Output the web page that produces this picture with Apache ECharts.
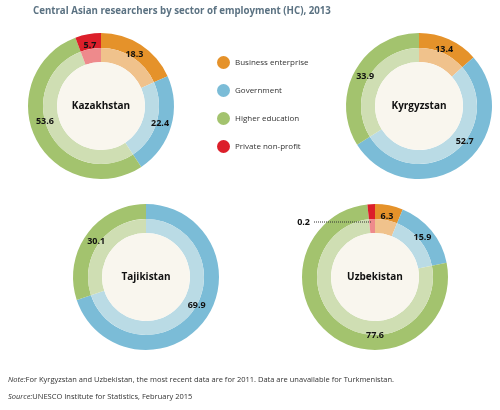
<!DOCTYPE html>
<html>
<head>
<meta charset="utf-8">
<script src="https://cdn.jsdelivr.net/npm/echarts@6/dist/echarts.min.js"></script>
<style>
  html, body { margin: 0; padding: 0; background: #ffffff; }
  #chart { width: 500px; height: 410px; }
</style>
</head>
<body>
<div id="chart"></div>
<script>
// ---- Data ----
const countries = ['Kazakhstan', 'Kyrgyzstan', 'Tajikistan', 'Uzbekistan'];
const sectors = ['Business enterprise', 'Government', 'Higher education', 'Private non-profit'];
const business = [18.3, 13.4, 0, 6.3];
const government = [22.4, 52.7, 69.9, 15.9];
const higherEd = [53.6, 33.9, 30.1, 77.6];
const privateNP = [5.7, 0, 0, 0.2];

// ---- Styles / layout ----
const darkColors = ['#e5922a', '#7bbcd7', '#a3c36e', '#dc1f2a'];
const lightColors = ['#f0c28c', '#badbe5', '#cfdeb3', '#ee8a8c'];
const centers = [[101, 106], [419, 106], [146, 277], [375, 277]];
// label angle overrides (degrees clockwise from 12 o'clock), keyed "country|sector"
const labelAngleOverride = {
  'Kazakhstan|Higher education': 255,
  'Kyrgyzstan|Government': 128,
  'Tajikistan|Government': 119,
  'Uzbekistan|Higher education': 180
};
const FONT = '"Open Sans", "Noto Sans", sans-serif';
const R_IN = 44, R_MID = 58, R_OUT = 73;

const seriesValues = [business, government, higherEd, privateNP];

function buildData(ci, colors) {
  const arr = [];
  sectors.forEach(function (s, si) {
    const v = seriesValues[si][ci];
    if (v > 0) {
      arr.push({ name: s, value: v, itemStyle: { color: colors[si] } });
    }
  });
  return arr;
}

const series = [];
countries.forEach(function (c, ci) {
  const center = centers[ci];
  const common = {
    type: 'pie', center: center, startAngle: 90, clockwise: true,
    avoidLabelOverlap: false, silent: true,
    minAngle: ci === 3 ? 6 : 0,
    emphasis: { disabled: true },
    labelLine: { show: false }
  };
  series.push(Object.assign({}, common, {
    radius: [R_MID, R_OUT], label: { show: false },
    data: buildData(ci, darkColors)
  }));
  series.push(Object.assign({}, common, {
    radius: [R_IN, R_MID], label: { show: false },
    data: buildData(ci, lightColors)
  }));
  // label carrier ring (transparent)
  const labelData = buildData(ci, darkColors).map(function (d) {
    const item = { name: d.name, value: d.value, itemStyle: { color: 'rgba(0,0,0,0)' } };
    if (d.value < 1) {
      item.label = { position: 'outside' };
      item.labelLine = { show: true, lineStyle: { type: 'dotted', color: '#333', width: 1 } };
    }
    return item;
  });
  series.push(Object.assign({}, common, {
    radius: [R_IN, R_OUT], z: 5,
    label: {
      show: true, position: 'inside', color: '#111', fontSize: 9, fontWeight: 'bold',
      fontFamily: FONT,
      formatter: function (p) { return p.value.toFixed(1); }
    },
    labelLayout: function (params) {
      const d = labelData[params.dataIndex];
      if (!d) return;
      if (d.value < 1) {
        const y = center[1] - 55;
        return {
          x: 310, y: y, align: 'right', verticalAlign: 'middle',
          labelLinePoints: [[center[0] - 4, y], [center[0] - 30, y], [314, y]]
        };
      }
      const a = labelAngleOverride[c + '|' + d.name];
      if (a !== undefined) {
        const rad = a * Math.PI / 180;
        return {
          x: center[0] + R_MID * Math.sin(rad),
          y: center[1] - R_MID * Math.cos(rad),
          align: 'center', verticalAlign: 'middle'
        };
      }
    },
    data: labelData
  }));
  // cream centre with country name
  series.push({
    type: 'pie', center: center, radius: [0, R_IN], silent: true,
    emphasis: { disabled: true },
    itemStyle: { color: '#f9f6ee' },
    label: {
      show: true, position: 'center', formatter: '{b}', color: '#111',
      fontSize: 10, fontWeight: 'bold', fontFamily: FONT
    },
    labelLine: { show: false },
    data: [{ name: c, value: 1 }]
  });
});

const chart = echarts.init(document.getElementById('chart'), null, { renderer: 'canvas' });
chart.setOption({
  animation: false,
  backgroundColor: '#ffffff',
  title: {
    text: 'Central Asian researchers by sector of employment (HC), 2013',
    left: 33, top: 6, padding: 0,
    textStyle: { fontSize: 9.7, fontWeight: 'bold', color: '#5b7282', fontFamily: FONT }
  },
  legend: {
    data: sectors, orient: 'vertical', left: 212, top: 51,
    itemWidth: 13, itemHeight: 13, itemGap: 15, icon: 'circle',
    selectedMode: false,
    textStyle: { fontSize: 8, color: '#333', fontFamily: FONT }
  },
  graphic: [
    {
      type: 'text', left: 8, top: 376,
      style: {
        text: '{i|Note:}For Kyrgyzstan and Uzbekistan, the most recent data are for 2011. Data are unavailable for Turkmenistan.',
        fontSize: 7.5, fontFamily: FONT, fill: '#333',
        rich: { i: { fontStyle: 'italic', fontSize: 7.5, fontFamily: FONT, fill: '#333' } }
      }
    },
    {
      type: 'text', left: 8, top: 393,
      style: {
        text: '{i|Source:}UNESCO Institute for Statistics, February 2015',
        fontSize: 7.5, fontFamily: FONT, fill: '#333',
        rich: { i: { fontStyle: 'italic', fontSize: 7.5, fontFamily: FONT, fill: '#333' } }
      }
    }
  ],
  series: series
});
</script>
</body>
</html>
